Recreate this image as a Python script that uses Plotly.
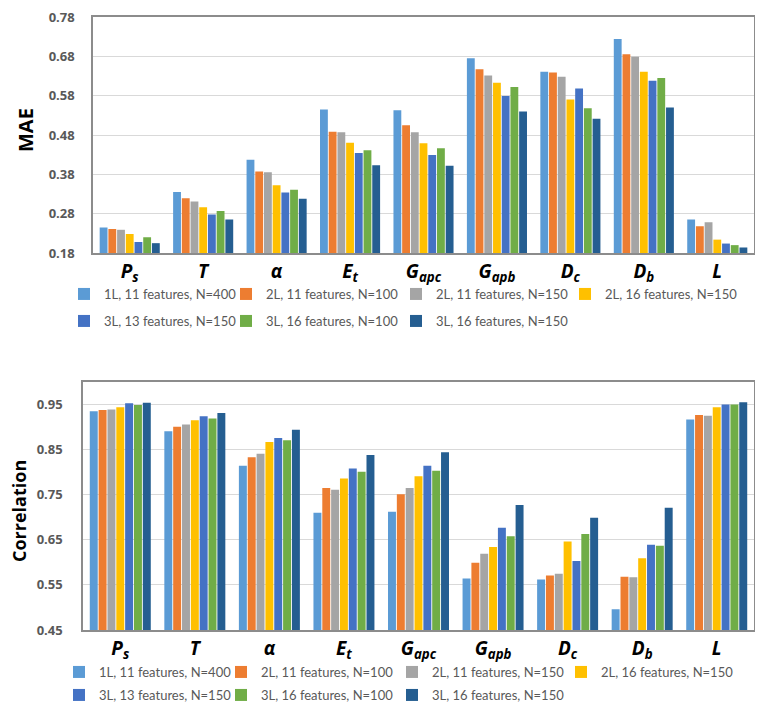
import plotly.graph_objects as go

categories = ['<b><i>P<sub>s</sub></i></b>', '<b><i>T</i></b>', '<b><i>α</i></b>',
              '<b><i>E<sub>t</sub></i></b>', '<b><i>G<sub>apc</sub></i></b>',
              '<b><i>G<sub>apb</sub></i></b>', '<b><i>D<sub>c</sub></i></b>',
              '<b><i>D<sub>b</sub></i></b>', '<b><i>L</i></b>']

series_names = ['1L, 11 features, N=400', '2L, 11 features, N=100',
                '2L, 11 features, N=150', '2L, 16 features, N=150',
                '3L, 13 features, N=150', '3L, 16 features, N=100',
                '3L, 16 features, N=150']

colors = ['#5B9BD5', '#ED7D31', '#A5A5A5', '#FFC000', '#4472C4', '#70AD47', '#255E91']

# MAE per series (one value per category)
mae_1l_11_400 = [0.245, 0.335, 0.417, 0.545, 0.543, 0.675, 0.641, 0.724, 0.265]
mae_2l_11_100 = [0.241, 0.319, 0.387, 0.488, 0.505, 0.647, 0.639, 0.685, 0.248]
mae_2l_11_150 = [0.239, 0.311, 0.385, 0.487, 0.487, 0.631, 0.628, 0.679, 0.258]
mae_2l_16_150 = [0.228, 0.296, 0.352, 0.460, 0.459, 0.613, 0.570, 0.641, 0.214]
mae_3l_13_150 = [0.208, 0.278, 0.334, 0.434, 0.429, 0.579, 0.598, 0.618, 0.204]
mae_3l_16_100 = [0.220, 0.287, 0.341, 0.441, 0.446, 0.602, 0.548, 0.625, 0.200]
mae_3l_16_150 = [0.205, 0.265, 0.318, 0.403, 0.402, 0.540, 0.521, 0.550, 0.194]

# Correlation per series
cor_1l_11_400 = [0.935, 0.891, 0.814, 0.710, 0.712, 0.564, 0.562, 0.496, 0.917]
cor_2l_11_100 = [0.938, 0.901, 0.833, 0.765, 0.751, 0.599, 0.571, 0.568, 0.927]
cor_2l_11_150 = [0.939, 0.906, 0.841, 0.761, 0.765, 0.619, 0.575, 0.567, 0.925]
cor_2l_16_150 = [0.944, 0.915, 0.867, 0.786, 0.791, 0.634, 0.646, 0.609, 0.944]
cor_3l_13_150 = [0.953, 0.924, 0.876, 0.808, 0.814, 0.677, 0.603, 0.639, 0.950]
cor_3l_16_100 = [0.949, 0.919, 0.871, 0.801, 0.803, 0.658, 0.663, 0.637, 0.950]
cor_3l_16_150 = [0.954, 0.931, 0.894, 0.838, 0.844, 0.727, 0.699, 0.721, 0.955]

mae_ticks = [0.18, 0.28, 0.38, 0.48, 0.58, 0.68, 0.78]
cor_ticks = [0.45, 0.55, 0.65, 0.75, 0.85, 0.95]

mae = [mae_1l_11_400, mae_2l_11_100, mae_2l_11_150, mae_2l_16_150,
       mae_3l_13_150, mae_3l_16_100, mae_3l_16_150]
cor = [cor_1l_11_400, cor_2l_11_100, cor_2l_11_150, cor_2l_16_150,
       cor_3l_13_150, cor_3l_16_100, cor_3l_16_150]

FONT = 'Lato, Liberation Sans, sans-serif'
BOLD_FONT = 'Open Sans, sans-serif'
# the page body keeps its default 8px margin, so the figure is drawn 8px in
OFF = 8
W, H = 763 - 2 * OFF, 711 - 2 * OFF


def px(x):
    return (x - OFF) / W


def py(y):
    return 1 - (y - OFF) / H


# legend entries: text start x and row centre y (page px)
legend_x_top = [103, 265, 435, 604, 103, 265, 435]
legend_x_bottom = [98, 260, 431, 600, 98, 260, 431]
legend_y_top = [294, 294, 294, 294, 321, 321, 321]
legend_y_bottom = [672, 672, 672, 672, 695, 695, 695]

fig = go.Figure()
legends = {}
for i, name in enumerate(series_names):
    key = 'legend' if i == 0 else f'legend{i + 1}'
    fig.add_trace(go.Bar(x=categories, y=mae[i], name=name, marker_color=colors[i],
                         marker_line_width=0, xaxis='x', yaxis='y', legend=key,
                         showlegend=True))
    legends[key] = (legend_x_top[i], legend_y_top[i])
for i, name in enumerate(series_names):
    key = f'legend{i + 8}'
    fig.add_trace(go.Bar(x=categories, y=cor[i], name=name, marker_color=colors[i],
                         marker_line_width=0, xaxis='x2', yaxis='y2', legend=key,
                         showlegend=True))
    legends[key] = (legend_x_bottom[i], legend_y_bottom[i])

axis_line = dict(showline=True, mirror=True, linecolor='#8C8C8C', linewidth=1.5)
xcommon = dict(tickfont=dict(family=BOLD_FONT, size=19, color='black'),
               ticks='', showgrid=False, ticklabelstandoff=0, **axis_line)
ycommon = dict(tickfont=dict(family=BOLD_FONT, size=13, color='#595959', weight='bold'),
               gridcolor='#D9D9D9', gridwidth=1.2, ticks='', zeroline=False,
               tickformat='.2f', ticklabeloverflow='allow', **axis_line)

legend_layout = {
    key: dict(orientation='h', x=px(tx - 39), xanchor='left', y=py(ty), yanchor='middle',
              itemwidth=30, font=dict(family=FONT, size=13, color='#595959'),
              bgcolor='rgba(0,0,0,0)')
    for key, (tx, ty) in legends.items()
}

title_font = dict(family=BOLD_FONT, size=20, color='black', weight='bold')

fig.update_layout(
    width=W, height=H,
    margin=dict(l=0, r=0, t=0, b=0, autoexpand=False),
    showlegend=True,
    plot_bgcolor='white', paper_bgcolor='white',
    barmode='group', bargap=0.17, bargroupgap=0.1,
    xaxis=dict(domain=[px(93), px(754)], anchor='y', **xcommon),
    yaxis=dict(domain=[py(253), py(17)], anchor='x', range=[0.18, 0.78],
               tickvals=mae_ticks, ticklabelstandoff=14, **ycommon),
    xaxis2=dict(domain=[px(83), px(754)], anchor='y2', **xcommon),
    yaxis2=dict(domain=[py(630), py(382)], anchor='x2', range=[0.45, 1.0],
                tickvals=cor_ticks, ticklabelstandoff=16, **ycommon),
    annotations=[
        dict(text='MAE', x=px(25), y=py(130), xref='paper', yref='paper',
             xanchor='center', yanchor='middle', textangle=-90, showarrow=False,
             font=title_font),
        dict(text='Correlation', x=px(19), y=py(511), xref='paper', yref='paper',
             xanchor='center', yanchor='middle', textangle=-90, showarrow=False,
             font=dict(title_font, size=18)),
    ],
    **legend_layout,
)

fig.write_html('out.html')
